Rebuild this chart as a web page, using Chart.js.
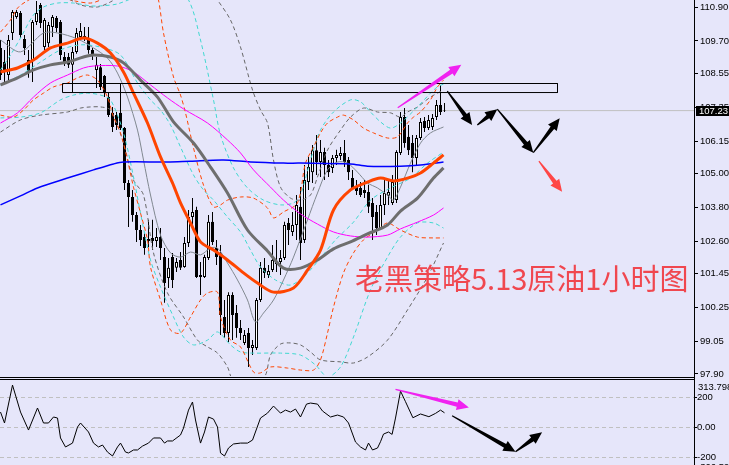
<!DOCTYPE html>
<html>
<head>
<meta charset="utf-8">
<script src="https://cdn.jsdelivr.net/npm/chart.js@4.4.1/dist/chart.umd.min.js"></script>
<style>
  html, body { margin: 0; padding: 0; background: #e6e6fa; overflow: hidden; }
  #wrap { position: relative; width: 729px; height: 465px; overflow: hidden; }
  #main { position: absolute; left: 0; top: 0; }
  #sub { position: absolute; left: 0; top: 378px; }
  #title { position: absolute; left: 355px; top: 263px; font-family: 'Noto Sans CJK SC'; font-size: 29px; line-height: 29px; color: #f0474f; white-space: nowrap; }
</style>
</head>
<body>
<div id="wrap">
  <canvas id="main" width="729" height="378"></canvas>
  <canvas id="sub" width="729" height="95"></canvas>
  <div id="title">老黑策略5.13原油1小时图</div>
</div>
<script>
// ---- candles (1 hour bars) ----
const candleOpen = [109.45,108.95,108.49,109.98,110.55,110.69,109.77,109.02,109.02,110.37,
  110.97,109.48,109.62,110.19,110.51,110.37,109.13,109.13,108.85,109.31,
  109.84,109.87,109.80,109.38,108.67,108.77,108.46,107.71,107.15,107.07,
  107.15,106.61,104.67,104.17,103.53,103.00,102.75,102.68,102.72,102.61,
  102.75,102.04,101.30,102.04,101.66,101.94,101.69,102.54,103.46,103.71,
  101.41,101.34,102.01,103.29,102.36,102.19,99.92,99.35,100.70,100.06,
  99.53,99.00,99.35,98.82,98.82,100.52,101.66,101.41,101.58,101.80,
  101.87,102.01,103.25,102.93,103.18,103.82,102.65,104.70,105.05,105.83,
  105.41,105.76,105.30,105.20,105.55,105.62,105.73,105.48,104.84,104.56,
  104.49,104.42,104.35,103.96,103.64,103.07,103.89,104.21,103.96,104.06,
  105.73,107.00,106.30,106.08,105.55,106.26,106.86,106.61,106.65,107.00,
  107.43,107.22];
const candleHigh = [109.73,109.38,109.91,110.79,110.79,110.76,109.91,109.38,110.44,111.11,
  111.04,110.51,110.37,110.62,110.58,110.44,109.31,109.27,109.48,110.16,
  110.33,110.19,110.19,109.45,109.13,108.88,108.49,107.85,107.36,107.18,
  108.17,106.65,104.77,104.42,103.64,103.18,102.89,103.36,103.36,103.07,
  103.07,102.36,102.01,102.19,102.01,102.22,102.75,103.71,104.13,103.82,
  101.87,102.12,103.53,103.64,102.65,102.47,100.52,100.80,100.80,100.34,
  99.81,99.46,99.53,99.10,100.59,101.87,102.01,101.76,102.47,102.65,
  102.29,103.29,103.43,103.64,104.24,104.52,105.30,105.59,106.01,106.37,
  106.19,105.91,105.48,105.66,105.84,105.94,106.19,105.59,105.13,104.77,
  104.70,104.77,104.60,104.13,103.89,104.24,104.77,104.77,104.95,105.83,
  107.18,107.32,106.72,106.37,106.37,106.97,107.00,107.07,107.11,107.61,
  108.14,107.50];
const candleLow = [108.31,108.24,108.31,109.73,110.48,109.80,109.20,108.39,108.24,110.26,
  110.16,109.38,109.48,109.84,110.01,109.02,108.81,108.74,107.89,109.24,
  109.73,109.70,109.24,109.02,108.03,107.96,107.71,107.00,106.47,106.54,
  106.54,104.42,103.11,103.29,102.58,102.43,102.12,102.40,102.29,102.40,
  101.94,100.42,100.95,100.95,101.51,101.58,101.66,102.40,103.11,101.30,
  100.70,101.30,101.94,102.47,101.76,99.28,99.18,99.03,99.10,99.18,
  99.10,98.93,98.15,98.57,98.75,100.45,101.30,101.30,101.51,101.51,
  101.41,101.94,102.47,102.79,102.65,101.94,102.54,104.42,104.67,104.95,
  104.88,104.77,104.88,105.02,105.30,105.48,105.23,104.77,104.42,104.24,
  104.17,104.13,103.60,102.65,102.82,103.00,103.53,103.89,103.89,103.96,
  105.66,105.91,105.66,105.05,105.30,106.19,106.47,106.54,106.54,106.90,
  107.07,107.18];
const candleClose = [108.49,108.60,109.73,110.72,110.72,109.91,109.45,108.56,110.37,110.69,
  110.33,110.44,110.26,110.55,110.16,109.20,108.92,108.85,109.31,109.98,
  110.05,109.80,109.38,109.20,108.85,108.07,107.89,107.07,106.65,106.72,
  106.61,104.67,104.17,103.53,103.00,102.65,102.36,102.61,102.61,102.75,
  102.36,101.12,101.66,101.23,101.87,101.66,102.54,103.46,103.64,101.34,
  101.34,102.04,103.29,102.58,102.04,99.99,99.35,100.70,99.99,99.53,
  99.35,99.28,98.82,98.93,100.52,101.66,101.48,101.55,101.94,101.87,
  102.01,103.18,103.00,103.18,103.89,102.54,104.77,105.23,105.83,105.41,
  105.76,105.30,105.05,105.55,105.66,105.73,105.41,105.05,104.49,104.38,
  104.24,104.31,103.82,103.46,103.07,103.89,104.31,104.35,104.70,105.76,
  107.00,106.08,105.83,105.55,106.26,106.83,106.61,106.90,106.97,107.43,
  107.18,107.23];
const lastPrice = 107.23;

// ---- price axis ----
const priceTicks = [110.90, 109.70, 108.55, 107.35, 106.15, 105.00, 103.80, 102.60, 101.45, 100.25, 99.05, 97.90];
const priceMin = 97.829;
const priceMax = 111.148;
const barMin = -0.125;
const barMax = 173.375;

// ---- moving averages (bar index / price) ----
const orangeMaAt = [0,4.25,8.25,12.5,16.75,20.75,24.25,27.5,30.75,33.25,36.75,40,43,45,47.5,50,53.25,56.75,60.75,64.25,68.25,73.25,76.75,80,83.25,87.5,91.75,95,98.25,101.75,105,108.25,110.75];
const orangeMa = [108.60,108.74,109.02,109.45,109.62,109.80,109.62,109.27,108.60,107.85,106.79,105.59,104.67,103.96,103.25,102.58,102.29,101.94,101.48,101.12,100.80,100.95,101.58,102.29,103.71,104.42,104.70,104.84,104.74,104.84,105.02,105.37,105.66];
const grayMaAt = [0,4.25,8.25,12.5,16.75,20.75,23.25,27.5,30.75,35,39.25,43.25,48.25,52.5,56.75,61.75,66.75,70.75,75,79.25,83.25,87.5,91.75,96.75,100,104.25,108.25,110.75];
const grayMa = [108.14,108.39,108.67,108.85,108.95,109.13,109.20,109.13,108.92,108.31,107.71,106.83,106.08,105.23,104.31,103.00,102.26,101.65,101.65,101.94,102.33,102.58,102.86,103.18,103.67,104.13,104.84,105.20];
const magentaMaAt = [0,4.25,8.25,12.5,16.75,20.75,23.25,29.25,33.25,37.5,41.75,45.75,51.75,56.75,60,63.25,67.5,70.75,75,79.25,83.25,87.5,91.75,96.75,100,104.25,108.25,110.75];
const magentaMa = [106.79,107.15,107.71,108.21,108.49,108.74,108.81,108.81,108.60,108.14,107.68,107.29,106.79,106.19,105.73,105.13,104.52,104.06,103.57,103.21,102.93,102.79,102.75,102.82,103.04,103.28,103.53,103.78];
const blueMaAt = [0,5,9.25,16.75,23.25,28.25,30.75,41.75,47.5,55.75,62.5,70.75,75,87.5,91.75,100,105,110.75];
const blueMa = [103.89,104.21,104.49,104.84,105.13,105.34,105.41,105.41,105.44,105.48,105.41,105.37,105.37,105.34,105.26,105.26,105.30,105.41];
const thinGrayAt = [0,5,10.75,14.25,19.25,23.25,26.75,29.25,31.75,34.25,35.75,37.5,40,42.5,45,47.5,50,52.5,54.25,56.75,59.25,61.75,63.75,65.75,68.25,70.75,73.25,76.75,79.25,81.75,84.25,86.75,89.25,91.75,94.25,96.75,98.25,100,102.5,105,107.5,110.75];
const thinGray = [109.73,109.31,109.98,109.98,109.77,109.45,109.09,108.56,107.71,106.54,105.48,104.24,102.82,102.19,102.04,102.22,102.12,102.36,102.36,101.83,101.23,100.52,99.74,100.06,100.52,101.23,102.04,103.36,104.31,105.13,105.41,105.37,105.05,104.67,104.49,104.24,104.06,104.52,105.37,106.08,106.44,106.65];

// ---- band lines (dashed) ----
const orangeUpAt = [0,2.5,4.25,6.25,10,15,18.75,22.5,25,28.75,35,38.75,39.5,40.75,43.25,45,46.25,48.25,50.75,53.25,55,56.75,60,63.25,66.75,68.25,70.75,74.25,76.25,78.25,80,81.75,84.25,85.75,88.25,90.75,93.25,96.75,99.25,101.75,103.25,105,107.5,109.25,110.75];
const orangeUp = [110.01,110.44,110.86,111.08,111.33,111.25,111.11,111.04,111.15,111.50,111.86,111.33,111.15,109.98,108.42,107.78,107.15,105.91,104.59,103.82,103.89,104.06,104.17,104.13,103.78,103.43,103.64,103.96,105.37,105.94,106.44,106.79,107.00,107.07,106.90,106.61,106.44,106.26,106.30,106.79,107.00,107.18,107.61,108.07,108.31];
const orangeLowAt = [0,3.25,5.75,8.25,10.75,13.25,16.75,19.25,21.75,24.25,26.75,28.25,30,31.75,33.25,35,36.75,37.5,40,42.5,45,47.5,50,51.75,54.25,55,57.5,60,63.25,65,67.5,71.75,75,78.25,80,81.75,83.25,85.75,88.25,90.75,94.25,96.75,100,104.25,108.25,110.75];
const orangeLow = [107.07,107.00,107.25,107.61,107.85,108.07,108.21,108.39,108.49,108.31,107.71,107.00,106.44,105.48,104.52,103.60,102.65,101.69,100.52,99.46,99.35,99.92,100.52,100.77,100.80,99.92,99.10,98.86,97.97,97.94,98.15,98.11,98.04,98.04,98.40,99.35,100.27,101.48,102.19,102.65,103.00,103.25,103.00,102.75,102.72,102.72];
const cyanUpAt = [0,2.5,5,8.25,10.75,14.25,18.25,22.5,25,29.25,35,42.5,47,50,53.25,55,58.25,61.75,65.75,70,73.25,75,77.5,80,83.25,87.5,90,92.5,95,97.5,100,104.25,107.5,109.25,110.75];
const cyanUp = [108.67,109.20,109.80,110.62,110.90,111.04,111.04,110.94,110.94,111.01,111.33,111.68,111.15,109.73,107.61,106.37,105.20,104.49,104.06,103.89,103.96,104.24,105.48,106.54,107.18,107.61,107.54,107.18,106.83,106.61,106.79,107.36,107.85,108.07,108.17];
const cyanMidAt = [0,5,10,15,20,25,30,34.25,37.5,40,42.5,45,48.25,50.75,53.25,56.75,60,62.5,65,68.75,72.5,76.25,80,83.75,88.25,92.5,97.5,102.5,106.75,110.75];
const cyanMid = [108.14,108.49,108.95,109.38,109.56,109.48,109.20,108.21,107.61,107.25,106.72,105.94,104.95,104.42,104.06,103.46,102.93,102.29,101.69,101.23,101.05,101.41,102.01,102.65,103.28,104.06,104.49,104.84,105.37,105.76];
const cyanLowAt = [0,5,10,15,18.25,21.75,25,27.5,30.75,33.25,35,37.5,40,43.25,45.75,48.25,51.75,54.25,57.5,60,63.25,70,75,78.75,81.75,85,88.25,92.5,96.75,100,104.25,108.25,110.75];
const cyanLow = [106.97,107.00,107.15,107.61,107.78,107.85,107.78,107.61,106.44,104.88,103.60,101.94,100.98,99.92,99.21,98.93,99.10,99.39,98.93,98.68,98.64,98.64,98.57,98.22,97.80,98.15,99.21,100.88,102.04,102.75,103.25,103.25,103.07];
const grayUpAt = [0,10,17.5,20,24.25,27.5,32.5,42.5,52.5,54.25,57.5,60,63,65,66.75,68.25,70,72.5,75,77.5,79.25,81.75,85,87.5,90.75,94.25,97.5,100,101.75,104.25,107.5,110.75];
const grayUp = [111.50,111.43,111.15,110.97,110.90,111.08,111.50,112.03,111.50,111.15,110.44,109.48,107.96,107.25,106.79,105.48,104.52,104.13,104.06,104.24,104.88,105.83,106.54,107.00,107.32,107.18,107.15,107.00,107.18,107.36,107.71,107.96];
const grayLowAt = [0,5,10,16.75,20,22.5,25,27.5,30.75,33.25,35.75,38.25,41.75,45.75,49.25,51.75,54.25,56.75,58,62.5,66.25,67.5,70,72.5,75,77.5,80,85,88.25,91.75,96.75,101.75,106.75,110.75];
const grayLow = [106.47,106.90,107.07,107.18,107.32,107.36,107.36,107.25,106.08,104.77,104.24,102.19,100.77,99.92,99.10,98.86,98.64,98.15,97.69,97.16,97.86,98.57,98.96,99.00,98.93,98.68,98.40,98.33,98.29,98.50,99.10,100.17,101.34,102.54];

// ---- drawn objects ----
const boxLeft = 15.5, boxRight = 139.25, boxTop = 108.19, boxBottom = 107.87;
const mainArrowFrom = [[99.3,107.33],[111.7,107.92],[119.2,106.72],[124.2,107.28],[133.2,105.74],[134.6,105.44]];
const mainArrowTo = [[115.2,108.85],[117.9,106.72],[124.2,107.28],[133.2,105.74],[139.8,106.96],[140.4,104.36]];
const mainArrowColor = ['#f022f0','#000','#000','#000','#000','#ff4646'];

// ---- CCI panel ----
const cciAt = [0,1,3,5,7,9.25,10.75,12,13.25,14.25,15,16.25,18,19.25,20,22,23.25,24.5,25.5,26.75,28,29.25,30,31.25,32,33.25,34.25,35.5,37,38.25,40,41,41.75,43,45,45.75,47,48,48.75,50,51,52,53.25,54.25,55,56,57,58.25,60,61.75,63,65,66.75,68.25,70,71.25,72.5,73.75,75,76.5,77.5,79.25,80.5,82.5,84.25,85.75,87,88.75,90,91.25,92,93,94.25,95,95.75,97,97.9,98.75,100,101.25,103.1,105,107.1,108.75,110,111];
const cciValues = [100,27,280,100,-20,127,27,27,67,60,-73,-133,-107,0,27,-33,-107,-133,-120,-167,-193,-133,-107,-167,-173,-153,-153,-127,-107,-73,-73,-107,-93,-93,-53,-7,113,167,47,-107,-33,67,53,0,-173,-193,-140,-113,-107,-107,-87,60,93,140,93,113,100,120,67,153,160,153,107,67,80,67,27,-100,-133,-153,-107,-153,-140,-98,-47,-33,-49,60,240,169,62,87,69,91,113,95];
const cciLevels = [200, 0, -200];
const cciMax = 313.798;
const cciMin = -306.59;
const cciArrowFrom = [[98.75,251],[112.9,75],[128.75,-165]];
const cciArrowTo = [[117.1,131],[128.75,-165],[135.4,-35]];
const cciArrowColor = ['#f022f0','#000','#000'];

Chart.defaults.font.family = 'Liberation Sans';
const labelSize = 9.5;

const pts = (xs, ys) => xs.map((x, k) => ({ x, y: ys[k] }));

function line(xs, ys, color, width, dash) {
  return {
    type: 'line', data: pts(xs, ys), borderColor: color, borderWidth: width,
    borderDash: dash || [], pointRadius: 0, tension: 0.3, fill: false
  };
}

function drawArrow(ctx, x1, y1, x2, y2, color) {
  const dx = x2 - x1, dy = y2 - y1, len = Math.hypot(dx, dy);
  const ux = dx / len, uy = dy / len, nx = -uy, ny = ux;
  const headLen = 12, headW = 5.5, w0 = 0.6, w1 = 2.2;
  const bx = x2 - ux * headLen, by = y2 - uy * headLen;
  ctx.beginPath();
  ctx.moveTo(x1 + nx * w0, y1 + ny * w0);
  ctx.lineTo(bx + nx * w1, by + ny * w1);
  ctx.lineTo(bx + nx * headW, by + ny * headW);
  ctx.lineTo(x2, y2);
  ctx.lineTo(bx - nx * headW, by - ny * headW);
  ctx.lineTo(bx - nx * w1, by - ny * w1);
  ctx.lineTo(x1 - nx * w0, y1 - ny * w0);
  ctx.closePath();
  ctx.fillStyle = color;
  ctx.fill();
}

const mainDecor = {
  id: 'mainDecor',
  afterDraw(chart) {
    const { ctx, chartArea, scales: { x, y } } = chart;
    ctx.save();
    mainArrowFrom.forEach((f, k) => {
      const t = mainArrowTo[k];
      drawArrow(ctx, x.getPixelForValue(f[0]), y.getPixelForValue(f[1]),
        x.getPixelForValue(t[0]), y.getPixelForValue(t[1]), mainArrowColor[k]);
    });
    // bottom border of the price panel
    ctx.fillStyle = '#000';
    ctx.fillRect(0, chartArea.bottom + 1, chartArea.right, 1);
    ctx.fillRect(chartArea.right, chartArea.bottom, 1, chart.height - chartArea.bottom);
    // bid label
    const py = Math.round(y.getPixelForValue(lastPrice));
    ctx.fillRect(chartArea.right + 2, py - 5, 33, 10);
    ctx.fillStyle = '#fff';
    ctx.font = labelSize + 'px "Liberation Sans"';
    ctx.textBaseline = 'middle';
    ctx.fillText(lastPrice.toFixed(2), chartArea.right + 5, py + 0.5);
    ctx.restore();
  }
};

const subDecor = {
  id: 'subDecor',
  afterDraw(chart) {
    const { ctx, chartArea, scales: { x, y } } = chart;
    ctx.save();
    cciArrowFrom.forEach((f, k) => {
      const t = cciArrowTo[k];
      drawArrow(ctx, x.getPixelForValue(f[0]), y.getPixelForValue(f[1]),
        x.getPixelForValue(t[0]), y.getPixelForValue(t[1]), cciArrowColor[k]);
    });
    ctx.fillStyle = '#000';
    ctx.fillRect(0, chartArea.top - 1, chartArea.right, 1);
    ctx.fillRect(chartArea.right, 0, 1, chartArea.top);
    ctx.font = labelSize + 'px "Liberation Sans"';
    ctx.textBaseline = 'middle';
    ctx.fillText(cciMax.toFixed(3), chartArea.right + 4, y.getPixelForValue(cciMax) + 7);
    ctx.fillText(cciMin.toFixed(2), chartArea.right + 3, y.getPixelForValue(cciMin) - 6);
    ctx.restore();
  }
};

const idx = candleOpen.map((_, i) => i);

new Chart(document.getElementById('main'), {
  type: 'bar',
  data: {
    datasets: [
      { type: 'line', data: [{x: boxLeft, y: boxTop}, {x: boxRight, y: boxTop}, {x: boxRight, y: boxBottom}, {x: boxLeft, y: boxBottom}, {x: boxLeft, y: boxTop}],
        borderColor: '#000', borderWidth: 1, pointRadius: 0, tension: 0, fill: false },
      line(orangeMaAt, orangeMa, '#ff4500', 3),
      line(grayMaAt, grayMa, '#6e6e6e', 3),
      line(magentaMaAt, magentaMa, '#ff00ff', 1),
      line(blueMaAt, blueMa, '#0000ff', 1.5),
      line(thinGrayAt, thinGray, '#808890', 1),
      line(orangeUpAt, orangeUp, '#ff4500', 1, [4, 3]),
      line(orangeLowAt, orangeLow, '#ff4500', 1, [4, 3]),
      line(cyanUpAt, cyanUp, '#40d8d0', 1, [4, 3]),
      line(cyanMidAt, cyanMid, '#40d8d0', 1, [4, 3]),
      line(cyanLowAt, cyanLow, '#40d8d0', 1, [4, 3]),
      line(grayUpAt, grayUp, '#666', 1, [4, 3]),
      line(grayLowAt, grayLow, '#666', 1, [4, 3]),
      {
        data: idx.map(i => ({ x: i, y: [candleOpen[i], candleClose[i]] })),
        backgroundColor: idx.map(i => candleClose[i] >= candleOpen[i] ? '#fff' : '#000'),
        borderColor: '#000', borderWidth: 1, borderSkipped: false,
        barThickness: 3, grouped: false, inflateAmount: 0
      },
      {
        data: idx.map(i => ({ x: i, y: [candleLow[i], candleHigh[i]] })),
        backgroundColor: '#000', borderWidth: 0, barThickness: 1, grouped: false, inflateAmount: 0
      },
      { type: 'line', data: [{x: barMin, y: lastPrice}, {x: barMax, y: lastPrice}],
        borderColor: '#c0c0c0', borderWidth: 1, pointRadius: 0, fill: false }
    ]
  },
  options: {
    responsive: false, animation: false, events: [], devicePixelRatio: 1,
    layout: { padding: { left: 0, right: 0, top: 0, bottom: 2 } },
    plugins: { legend: { display: false }, tooltip: { enabled: false } },
    scales: {
      x: { type: 'linear', min: barMin, max: barMax, display: false, offset: false },
      y: {
        type: 'linear', position: 'right', min: priceMin, max: priceMax,
        afterBuildTicks: s => { s.ticks = priceTicks.map(v => ({ value: v })); },
        afterFit: s => { s.width = 35; s.paddingTop = 0; s.paddingBottom = 0; },
        grid: { drawOnChartArea: false, drawTicks: true, tickLength: 4, color: '#000', tickColor: '#000' },
        border: { display: true, color: '#000', width: 1 },
        ticks: { autoSkip: false, padding: 2, color: '#000', font: { size: labelSize }, callback: v => v.toFixed(2) }
      }
    }
  },
  plugins: [mainDecor]
});

new Chart(document.getElementById('sub'), {
  type: 'line',
  data: {
    datasets: [{ data: pts(cciAt, cciValues), borderColor: '#000', borderWidth: 1, pointRadius: 0, tension: 0, fill: false }]
  },
  options: {
    responsive: false, animation: false, events: [], devicePixelRatio: 1,
    layout: { padding: { left: 0, right: 0, top: 2, bottom: 0 } },
    plugins: { legend: { display: false }, tooltip: { enabled: false } },
    scales: {
      x: { type: 'linear', min: barMin, max: barMax, display: false },
      y: {
        type: 'linear', position: 'right', min: cciMin, max: cciMax,
        afterBuildTicks: s => { s.ticks = cciLevels.map(v => ({ value: v })); },
        afterFit: s => { s.width = 35; s.paddingTop = 0; s.paddingBottom = 0; },
        grid: { drawOnChartArea: true, drawTicks: true, tickLength: 3, color: '#c0c0c0', tickColor: '#000' },
        border: { display: true, color: '#000', width: 1, dash: [4, 3] },
        ticks: { autoSkip: false, padding: 0, color: '#000', font: { size: labelSize }, callback: v => v === 0 ? '0.00' : String(v) }
      }
    }
  },
  plugins: [subDecor]
});
</script>
</body>
</html>
